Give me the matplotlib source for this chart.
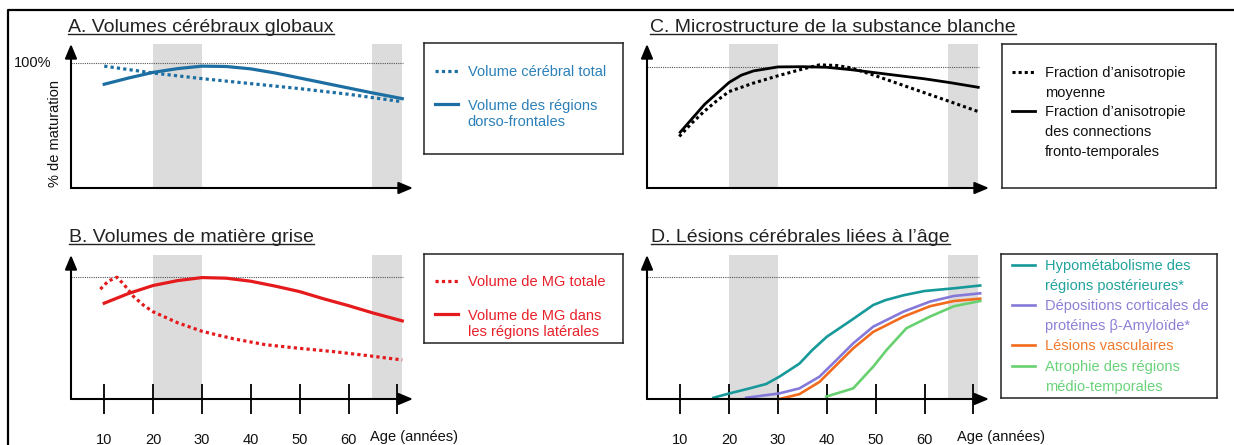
import matplotlib.pyplot as plt
from matplotlib.lines import Line2D

plt.rcParams['font.family'] = ['Liberation Sans', 'DejaVu Sans']

W, H = 1234, 445

# ---- data (age in years, % of maturation) ----
tick_ages = [10, 20, 30, 40, 50, 60, 70]
tick_labels = ['10', '20', '30', '40', '50', '60', '']
bands = [(20, 30), (64.9, 71.0)]

# A. global brain volumes
a_total_x = [10, 20, 30, 40, 50, 60, 71]
a_total_y = [97.5, 92, 87.5, 83.5, 79.5, 75, 69]
a_dorso_x = [10, 15, 20, 25, 30, 35, 40, 45, 50, 55, 60, 65, 71]
a_dorso_y = [83, 88, 92.5, 95.5, 97.5, 97.2, 95.3, 92, 88, 84, 80, 76, 71.5]

# B. grey matter volumes
b_total_x = [9.2, 10.8, 12.6, 14, 16, 18, 20, 25, 30, 36.5, 43, 50, 57, 64, 71]
b_total_y = [90, 96.5, 99.8, 94, 84, 77, 71.5, 62.5, 55.5, 49.3, 44.5, 41.5, 38.8, 35.5, 32]
b_lat_x = [10, 15, 20, 25, 30, 35, 40, 45, 50, 55, 60, 65, 71]
b_lat_y = [78.5, 86.5, 93, 97, 99.5, 99, 96.5, 92.5, 88, 82, 76.5, 70.5, 64]

# C. white matter microstructure
c_mean_x = [9.8, 12.5, 15, 17.5, 20, 25, 30, 35, 38.5, 42, 45, 50, 55, 60, 65, 71]
c_mean_y = [42.5, 54, 63.5, 72, 79.5, 86.5, 92.5, 98, 101.5, 101, 99, 92.5, 85.5, 78.5, 71.5, 63]
c_ft_x = [10, 12.5, 15, 17.5, 20, 22.5, 25, 30, 35, 40, 45, 50, 55, 60, 65, 71]
c_ft_y = [46, 57.5, 69, 78, 87, 93, 96.5, 99.8, 100, 99.5, 97.5, 95, 92.5, 90, 87, 83]

# D. age-related brain lesions
d_hypo_x = [16.8, 20, 24, 27.6, 30.3, 34.4, 37, 40, 45, 49.5, 52, 55.7, 60, 66, 71.4]
d_hypo_y = [1, 4.5, 8.5, 12.3, 18.3, 29, 40, 51, 64.5, 77, 81, 85, 88.5, 90.7, 93]
d_amy_x = [23.5, 30.3, 34.4, 38.5, 42, 45.4, 49.5, 55.7, 61.1, 66, 71.4]
d_amy_y = [1, 4.6, 8.7, 18.3, 32, 45.6, 59.3, 71.6, 79.8, 84.4, 86.6]
d_vasc_x = [30.3, 34.4, 38.5, 42, 45.4, 49.5, 55.7, 61.1, 66, 71.4]
d_vasc_y = [0, 4, 14, 28, 41.5, 55, 67.5, 76, 80.3, 82.2]
d_atro_x = [39.9, 45.4, 49.5, 52.2, 56.3, 61.1, 66, 71.4]
d_atro_y = [2, 8.7, 26.5, 40, 58, 67.5, 76, 80.3]

titles = ['A. Volumes cérébraux globaux', 'B. Volumes de matière grise',
          'C. Microstructure de la substance blanche', 'D. Lésions cérébrales liées à l’âge']

fig = plt.figure(figsize=(W / 100, H / 100), dpi=100)


def px_axes(x0, y0, x1, y1):
    return fig.add_axes([x0 / W, 1 - y1 / H, (x1 - x0) / W, (y1 - y0) / H])


def panel(rect, ytop, ticks):
    ax = px_axes(*rect)
    ax.set_xlim(3.2, 73.2)
    ax.set_ylim(0, ytop)
    for s in ax.spines.values():
        s.set_visible(False)
    for a, b in bands:
        ax.axvspan(a, b, color='#dcdcdc', lw=0, zorder=0)
    ax.hlines(100, 3.2, 71.1, colors='#555555', linestyles=(0, (1, 1)), lw=0.8, zorder=1)
    arrow = dict(arrowstyle='-|>,head_length=0.86,head_width=0.36', color='black',
                 lw=1.5, shrinkA=0, shrinkB=0, mutation_scale=10)
    ax.annotate('', xy=(0, 1), xytext=(0, 0), xycoords='axes fraction', arrowprops=arrow,
                annotation_clip=False)
    ax.annotate('', xy=(1, 0), xytext=(0, 0), xycoords='axes fraction', arrowprops=arrow,
                annotation_clip=False)
    ax.set_yticks([])
    if ticks:
        ax.set_xticks(tick_ages)
        ax.set_xticklabels(tick_labels, fontsize=10.5, color='#111111')
        ax.tick_params(axis='x', direction='inout', length=22, width=1.3, pad=13.5)
    else:
        ax.set_xticks([])
    return ax


axA = panel((71, 44, 413, 188), 115.2, False)
axB = panel((71, 255, 413, 399), 118, True)
axC = panel((647, 44, 989, 188), 118.7, False)
axD = panel((647, 255, 989, 399), 118, True)

blue, red = '#1d6fa3', '#e41a1c'
la1, = axA.plot(a_total_x, a_total_y, color=blue, lw=2.3, ls=(0, (1, 1)))
la2, = axA.plot(a_dorso_x, a_dorso_y, color=blue, lw=2.3)
lb1, = axB.plot(b_total_x, b_total_y, color=red, lw=2.3, ls=(0, (1, 1)))
lb2, = axB.plot(b_lat_x, b_lat_y, color=red, lw=2.3)
lc1, = axC.plot(c_mean_x, c_mean_y, color='black', lw=2.2, ls=(0, (1, 1)))
lc2, = axC.plot(c_ft_x, c_ft_y, color='black', lw=2.0)
d_colors = ['#17999a', '#8479d9', '#f26b1d', '#68d16f']
ld = [axD.plot(x, y, color=c, lw=1.9, clip_on=False)[0]
      for x, y, c in zip([d_hypo_x, d_amy_x, d_vasc_x, d_atro_x],
                         [d_hypo_y, d_amy_y, d_vasc_y, d_atro_y], d_colors)]

axA.text(-0.056, 100, '100%', transform=axA.get_yaxis_transform(), ha='right', va='center',
         fontsize=10.5, color='#111111')
axA.text(-0.047, 0.38, '% de maturation', transform=axA.transAxes, rotation=90,
         ha='center', va='center', fontsize=10.5, color='#111111')
axB.text(64.5, -0.264, 'Age (années)', transform=axB.get_xaxis_transform(), ha='left',
         va='center', fontsize=10.5, color='#111111')
axD.text(66.7, -0.264, 'Age (années)', transform=axD.get_xaxis_transform(), ha='left',
         va='center', fontsize=10.5, color='#111111')

# ---- legends in framed boxes ----
blank = Line2D([], [], linestyle='none')


def legend_box(rect, handles, labels, colors, hx, ty, spacing):
    lax = px_axes(*rect)
    lax.set_xticks([])
    lax.set_yticks([])
    for s in lax.spines.values():
        s.set_color('#222222')
        s.set_linewidth(1.1)
    leg = lax.legend(handles, labels, loc='upper left', bbox_to_anchor=(hx / W, 1 - ty / H),
                     bbox_transform=fig.transFigure, frameon=False, borderpad=0,
                     borderaxespad=0, handlelength=1.55, handletextpad=0.7,
                     labelspacing=spacing, fontsize=10.5)
    for t, c in zip(leg.get_texts(), colors):
        t.set_color(c)


tb, tr = '#2b80b9', '#e8202a'
legend_box((424, 43, 623, 154), [la1, blank, la2, blank],
           ['Volume cérébral total', ' ', 'Volume des régions', 'dorso-frontales'],
           [tb] * 4, 435, 65, 0.19)
legend_box((424, 254, 623, 343), [lb1, blank, lb2, blank],
           ['Volume de MG totale', ' ', 'Volume de MG dans', 'les régions latérales'],
           [tr] * 4, 435, 275, 0.19)
legend_box((1002, 44, 1216, 188), [lc1, blank, lc2, blank, blank],
           ['Fraction d’anisotropie', 'moyenne', 'Fraction d’anisotropie',
            'des connections', 'fronto-temporales'],
           ['#111111'] * 5, 1012, 66, 0.39)
d_text = ['#21a39c', '#21a39c', '#8b80d6', '#8b80d6', '#f07a30', '#6ad37a', '#6ad37a']
legend_box((1001, 254, 1217, 398), [ld[0], blank, ld[1], blank, ld[2], ld[3], blank],
           ['Hypométabolisme des', 'régions postérieures*', 'Dépositions corticales de',
            'protéines β-Amyloïde*', 'Lésions vasculaires', 'Atrophie des régions',
            'médio-temporales'],
           d_text, 1012, 259, 0.42)

# ---- underlined panel titles ----
title_pos = [(68, 32), (69, 242), (650, 31.5), (651, 242)]
tobjs = [fig.text(x / W, 1 - y / H, t, fontsize=14, color='#222222', va='baseline')
         for t, (x, y) in zip(titles, title_pos)]
fig.canvas.draw()
for t, (x, y) in zip(tobjs, title_pos):
    bb = t.get_window_extent()
    fig.add_artist(Line2D([bb.x0 / W, bb.x1 / W], [1 - (y + 2) / H] * 2,
                          transform=fig.transFigure, color='#222222', lw=1.0))

# frame of the original figure
fig.add_artist(Line2D([8 / W, 8 / W, 1], [0, 1 - 10 / H, 1 - 10 / H],
                      transform=fig.transFigure, color='black', lw=1.6))

fig.savefig('out.png', dpi=100)
